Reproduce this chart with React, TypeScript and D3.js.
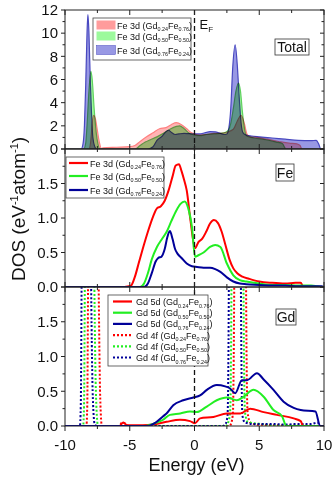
import React from 'react';
import * as d3 from 'd3';

type Pt = [number, number];

// Total panel: filled Fe 3d curves [energy, DOS]
const totalRed: Pt[] = [[-10, 0], [-8.15, 0], [-8.0, 0.8], [-7.9, 2.2], [-7.8, 2.9], [-7.65, 2.6], [-7.5, 1.6], [-7.35, 0.6], [-7.2, 0.05], [-7.05, 0.1], [-6.0, 0.15], [-5.0, 0.2], [-4.6, 0.3], [-4.2, 0.65], [-3.7, 1.05], [-3.2, 1.4], [-2.7, 1.75], [-2.2, 1.85], [-1.8, 2.1], [-1.4, 2.27], [-1.0, 2.1], [-0.6, 1.75], [-0.3, 1.45], [0, 1.3], [0.4, 1.2], [0.9, 1.25], [1.5, 1.35], [2.0, 1.35], [2.5, 1.45], [3.0, 1.7], [3.3, 2.4], [3.6, 2.9], [3.85, 2.2], [4.05, 1.3], [4.3, 1.05], [4.8, 1.0], [5.6, 0.85], [6.5, 0.65], [7.3, 0.5], [7.9, 0.45], [8.15, 0.3], [8.3, 0], [10, 0]];
const totalGreen: Pt[] = [[-10, 0], [-8.55, 0], [-8.4, 0.5], [-8.3, 2], [-8.15, 5], [-8.0, 6.7], [-7.9, 6], [-7.75, 3.5], [-7.6, 1.5], [-7.45, 0.4], [-7.3, 0], [-4.6, 0], [-4.2, 0.3], [-3.8, 0.6], [-3.4, 0.8], [-2.9, 1.05], [-2.4, 1.35], [-1.9, 1.7], [-1.4, 1.95], [-1.15, 2.0], [-0.8, 1.75], [-0.4, 1.35], [0, 1.2], [0.4, 1.15], [0.9, 1.25], [1.5, 1.3], [2.0, 1.35], [2.4, 1.45], [2.6, 1.6], [2.8, 2.2], [3.0, 3.5], [3.2, 5], [3.4, 5.7], [3.55, 5], [3.7, 3.2], [3.85, 1.8], [4.05, 1.1], [4.6, 0.95], [5.5, 0.8], [6.3, 0.6], [6.8, 0.45], [6.95, 0.15], [7.05, 0], [10, 0]];
const totalBlue: Pt[] = [[-10, 0], [-8.75, 0], [-8.6, 0.5], [-8.5, 2], [-8.4, 5.5], [-8.3, 10], [-8.23, 11.6], [-8.15, 10], [-8.05, 6], [-7.95, 3], [-7.85, 1], [-7.7, 0.2], [-7.55, 0], [-3.6, 0], [-3.2, 0.2], [-2.9, 0.75], [-2.5, 1.1], [-2.2, 1.5], [-2.0, 1.62], [-1.8, 1.45], [-1.5, 1.25], [-1.2, 1.3], [-0.8, 1.35], [-0.4, 1.32], [0, 1.3], [0.4, 1.3], [0.8, 1.4], [1.2, 1.5], [1.6, 1.48], [2.0, 1.35], [2.3, 1.25], [2.5, 1.3], [2.65, 1.8], [2.8, 3.5], [2.95, 7], [3.14, 9], [3.3, 7.3], [3.45, 4.5], [3.6, 2.2], [3.75, 1.4], [4.0, 1.2], [4.4, 1.12], [5, 1.05], [6, 0.95], [7, 0.85], [8, 0.75], [9, 0.72], [9.4, 0.75], [9.6, 0.4], [9.75, 0], [10, 0]];

// Fe panel: Fe 3d partial DOS
const feRed: Pt[] = [[-10, 0], [-5.4, 0], [-5.1, 0.01], [-4.9, 0.02], [-4.6, 0.15], [-4.3, 0.35], [-4.0, 0.55], [-3.6, 0.8], [-3.2, 1.02], [-2.9, 1.14], [-2.6, 1.17], [-2.3, 1.25], [-2.0, 1.4], [-1.7, 1.6], [-1.45, 1.76], [-1.2, 1.78], [-1.0, 1.68], [-0.8, 1.55], [-0.6, 1.4], [-0.3, 0.95], [0.04, 0.56], [0.3, 0.65], [0.6, 0.7], [0.9, 0.8], [1.2, 0.92], [1.5, 0.97], [1.8, 0.93], [2.1, 0.8], [2.4, 0.6], [2.7, 0.4], [3.0, 0.27], [3.3, 0.2], [3.7, 0.15], [4.2, 0.12], [5, 0.08], [6, 0.06], [7, 0.05], [7.8, 0.06], [8.2, 0.06], [8.4, 0.01], [10, 0]];
const feGreen: Pt[] = [[-10, 0], [-4.2, 0], [-3.9, 0.05], [-3.6, 0.2], [-3.3, 0.4], [-2.9, 0.58], [-2.5, 0.7], [-2.15, 0.8], [-1.8, 0.95], [-1.4, 1.11], [-1.1, 1.2], [-0.75, 1.24], [-0.5, 1.15], [-0.2, 0.87], [0.04, 0.44], [0.3, 0.46], [0.7, 0.5], [1.2, 0.58], [1.6, 0.61], [2.0, 0.58], [2.5, 0.34], [3.0, 0.17], [3.5, 0.1], [4.0, 0.08], [5, 0.05], [6, 0.03], [7, 0.03], [8, 0.02], [9, 0.02], [9.5, 0.01], [10, 0]];
const feBlue: Pt[] = [[-10, 0], [-3.9, 0], [-3.6, 0.05], [-3.3, 0.2], [-3.0, 0.37], [-2.8, 0.42], [-2.55, 0.44], [-2.3, 0.55], [-2.1, 0.72], [-1.9, 0.81], [-1.7, 0.7], [-1.5, 0.55], [-1.3, 0.48], [-1.0, 0.42], [-0.6, 0.34], [-0.2, 0.3], [0.2, 0.29], [0.7, 0.28], [1.2, 0.28], [1.6, 0.26], [2.0, 0.22], [2.5, 0.14], [3.0, 0.08], [3.5, 0.05], [4, 0.04], [5, 0.03], [6, 0.02], [7, 0.02], [8, 0.01], [9, 0.01], [9.8, 0.01], [10, 0]];

// Gd panel: Gd 5d (solid) and Gd 4f (dotted)
const gd5dRed: Pt[] = [[-10, 0], [-5.8, 0], [-5.5, 0.05], [-5.2, 0.01], [-4, 0.01], [-3.2, 0.02], [-2.16, 0.06], [-1.12, 0.09], [-0.35, 0.07], [0.04, 0.04], [0.43, 0.11], [1.46, 0.13], [2.5, 0.18], [3.53, 0.18], [4.3, 0.25], [5.34, 0.2], [6.37, 0.16], [7.66, 0.11], [8.2, 0.07], [8.4, 0], [10, 0]];
const gd5dGreen: Pt[] = [[-10, 0], [-3.8, 0], [-3.2, 0.03], [-2.42, 0.09], [-1.9, 0.16], [-1.1, 0.18], [-0.35, 0.21], [0.17, 0.2], [0.95, 0.28], [1.72, 0.37], [2.5, 0.41], [3.27, 0.37], [3.78, 0.42], [4.56, 0.52], [5.34, 0.42], [6.1, 0.23], [6.76, 0.14], [7.1, 0], [10, 0]];
const gd5dBlue: Pt[] = [[-10, 0], [-3.6, 0], [-3.0, 0.05], [-2.42, 0.14], [-2.16, 0.18], [-1.64, 0.3], [-0.87, 0.37], [-0.09, 0.41], [0.43, 0.44], [0.95, 0.52], [1.72, 0.59], [2.37, 0.57], [2.75, 0.54], [3.14, 0.47], [3.66, 0.66], [4.05, 0.66], [4.82, 0.76], [5.34, 0.67], [6.1, 0.52], [6.88, 0.35], [7.66, 0.26], [8.2, 0.23], [9.34, 0.21], [9.7, 0], [10, 0]];
const gd4fRed: Pt[] = [[-10, 0], [-8.35, 0], [-8.28, 0.3], [-8.22, 2], [-8.05, 6], [-7.8, 9], [-7.55, 5], [-7.4, 2], [-7.28, 0.4], [-7.15, 0], [-5.8, 0], [-5.6, 0.05], [-5.4, 0.04], [-5.2, 0.01], [-5, 0], [2.7, 0], [2.85, 0.05], [2.97, 0.2], [3.03, 1], [3.1, 3], [3.5, 8], [3.95, 3], [4.02, 1], [4.1, 0.2], [4.3, 0.05], [4.8, 0.02], [10, 0]];
const gd4fGreen: Pt[] = [[-10, 0], [-8.6, 0], [-8.53, 0.3], [-8.47, 2], [-8.35, 6], [-8.1, 10], [-7.85, 5], [-7.73, 2], [-7.6, 0.4], [-7.45, 0], [2.4, 0], [2.6, 0.05], [2.75, 0.2], [2.82, 1], [2.88, 3], [3.3, 8], [3.75, 3], [3.82, 1], [3.9, 0.2], [4.1, 0.06], [4.6, 0.04], [5.2, 0.03], [6, 0.01], [10, 0]];
const gd4fBlue: Pt[] = [[-10, 0], [-8.85, 0], [-8.78, 0.3], [-8.72, 2], [-8.6, 6], [-8.35, 10], [-8.1, 5], [-7.98, 2], [-7.85, 0.4], [-7.7, 0.02], [-7.5, 0], [2.2, 0], [2.4, 0.03], [2.55, 0.15], [2.62, 1.0], [2.68, 3], [3.1, 8], [3.55, 3], [3.62, 1.0], [3.7, 0.15], [3.9, 0.05], [4.5, 0.03], [5, 0.03], [6, 0.03], [7, 0.02], [8, 0.03], [9, 0.03], [9.5, 0.05], [9.7, 0], [10, 0]];

const compositions = [['0.24', '0.76'], ['0.50', '0.50'], ['0.76', '0.24']];
const xTicks = [-10, -5, 0, 5, 10];

const FONT = '"Liberation Sans", Arial, Helvetica, sans-serif';
const W = 334;
const H = 477;
const X0 = 65;
const X1 = 324;
const RED = '#ff0000';
const GREEN = '#22ee22';
const BLUE = '#000099';
const LEG_FS = 9;

const x = d3.scaleLinear().domain([-10, 10]).range([X0, X1]);

const panels = [
  { top: 10, bottom: 149, max: 12, major: 2, minor: 1, fmt: d3.format('d'), labelTop: true },
  { top: 149, bottom: 287, max: 2, major: 0.5, minor: 0.25, fmt: d3.format('.1f'), labelTop: false },
  { top: 287, bottom: 426, max: 2, major: 0.5, minor: 0.25, fmt: d3.format('.1f'), labelTop: false },
];
const yScales = panels.map(p => d3.scaleLinear().domain([0, p.max]).range([p.bottom, p.top]));

function Formula({ head, a, b, size }: { head: string; a: string; b: string; size: number }) {
  const s = size * 0.6;
  return (
    <>
      {head} (Gd
      <tspan dy={2.5} fontSize={s}>{a}</tspan>
      <tspan dy={-2.5}>Fe</tspan>
      <tspan dy={2.5} fontSize={s}>{b}</tspan>
      <tspan dy={-2.5}>)</tspan>
    </>
  );
}

function Axes({ i }: { i: number }) {
  const p = panels[i];
  const y = yScales[i];
  const majors = d3.range(0, p.max + 1e-6, p.major);
  const minors = d3.range(0, p.max + 1e-6, p.minor).filter(v => !majors.some(m => Math.abs(m - v) < 1e-6));
  const xMinor = [-7.5, -2.5, 2.5, 7.5];
  const last = i === panels.length - 1;
  return (
    <g stroke="#222" strokeWidth={1}>
      <rect x={X0} y={p.top} width={X1 - X0} height={p.bottom - p.top} fill="none" />
      {majors.map(v => (
        <g key={'M' + v}>
          <line x1={X0 - 4} x2={X0} y1={y(v)} y2={y(v)} />
          <line x1={X1 - 4} x2={X1} y1={y(v)} y2={y(v)} />
        </g>
      ))}
      {minors.map(v => (
        <g key={'m' + v}>
          <line x1={X0 - 2.5} x2={X0} y1={y(v)} y2={y(v)} />
          <line x1={X1 - 2.5} x2={X1} y1={y(v)} y2={y(v)} />
        </g>
      ))}
      {xTicks.map(v => (
        <g key={'x' + v}>
          <line x1={x(v)} x2={x(v)} y1={p.top} y2={p.top + 5} />
          {last
            ? <line x1={x(v)} x2={x(v)} y1={p.bottom} y2={p.bottom + 5} />
            : <line x1={x(v)} x2={x(v)} y1={p.bottom} y2={p.bottom - 5} />}
        </g>
      ))}
      {xMinor.map(v => (
        <g key={'xm' + v}>
          <line x1={x(v)} x2={x(v)} y1={p.top} y2={p.top + 3} />
          {last
            ? <line x1={x(v)} x2={x(v)} y1={p.bottom} y2={p.bottom + 3} />
            : <line x1={x(v)} x2={x(v)} y1={p.bottom} y2={p.bottom - 3} />}
        </g>
      ))}
      <g stroke="none" fill="#111" fontSize={15} textAnchor="end">
        {majors.filter(v => p.labelTop || v < p.max - 1e-6).map(v => (
          <text key={'l' + v} x={X0 - 7} y={y(v) + 5.3}>{p.fmt(v)}</text>
        ))}
      </g>
    </g>
  );
}

export default function App() {
  const lineFor = (i: number) =>
    d3.line<Pt>().x(d => x(d[0])).y(d => yScales[i](d[1])).curve(d3.curveMonotoneX);
  const area0 = d3.area<Pt>()
    .x(d => x(d[0]))
    .y0(yScales[0](0))
    .y1(d => yScales[0](d[1]))
    .curve(d3.curveMonotoneX);
  const line1 = lineFor(1);
  const line2 = lineFor(2);

  const totalSeries = [
    { data: totalRed, fill: '#ffb4b4', stroke: '#ff8080' },
    { data: totalGreen, fill: '#9cfa9c', stroke: '#60d060' },
    { data: totalBlue, fill: '#9898e4', stroke: '#4848c0' },
  ];
  const feSeries = [
    { data: feRed, color: RED },
    { data: feGreen, color: GREEN },
    { data: feBlue, color: BLUE },
  ];
  const gdSolid = [
    { data: gd5dRed, color: RED },
    { data: gd5dGreen, color: GREEN },
    { data: gd5dBlue, color: BLUE },
  ];
  const gdDotted = [
    { data: gd4fRed, color: RED },
    { data: gd4fGreen, color: GREEN },
    { data: gd4fBlue, color: BLUE },
  ];
  const colors = [RED, GREEN, BLUE];
  const ef = x(0);

  return (
    <svg width={W} height={H} viewBox={`0 0 ${W} ${H}`}
      style={{ position: 'absolute', left: 0, top: 0, display: 'block', background: '#fff' }}
      fontFamily={FONT}>
      <defs>
        {panels.map((p, i) => (
          <clipPath key={i} id={'clip' + i}>
            <rect x={X0} y={p.top} width={X1 - X0} height={p.bottom - p.top} />
          </clipPath>
        ))}
      </defs>
      <rect x={0} y={0} width={W} height={H} fill="#fff" />

      {/* Total panel */}
      <g clipPath="url(#clip0)" style={{ isolation: 'isolate' }}>
        {totalSeries.map((s, k) => (
          <path key={k} d={area0(s.data) || ''} fill={s.fill} stroke={s.stroke} strokeWidth={1.2}
            style={{ mixBlendMode: 'multiply' }} />
        ))}
      </g>

      {/* Fe panel */}
      <g clipPath="url(#clip1)" fill="none">
        {feSeries.map((s, k) => (
          <path key={k} d={line1(s.data) || ''} stroke={s.color} strokeWidth={2} />
        ))}
      </g>

      {/* Gd panel */}
      <g clipPath="url(#clip2)" fill="none">
        {gdDotted.map((s, k) => (
          <path key={'d' + k} d={line2(s.data) || ''} stroke={s.color} strokeWidth={2} strokeDasharray="2,2" />
        ))}
        {gdSolid.map((s, k) => (
          <path key={'s' + k} d={line2(s.data) || ''} stroke={s.color} strokeWidth={2} />
        ))}
      </g>

      {/* Fermi level */}
      <line x1={ef} x2={ef} y1={panels[0].top} y2={panels[2].bottom} stroke="#111" strokeWidth={1.3} strokeDasharray="5,3" />
      <text x={ef + 5} y={29} fontSize={13} fill="#111">E<tspan dy={3} fontSize={8}>F</tspan></text>

      {[0, 1, 2].map(i => <Axes key={i} i={i} />)}

      {/* Total legend */}
      <g>
        <rect x={93} y={18} width={98} height={42} fill="#fff" stroke="#444" strokeWidth={0.8} />
        {totalSeries.map((s, k) => {
          const cy = [25, 36, 50][k];
          return (
            <g key={k}>
              <rect x={96.5} y={cy - 4.5} width={19} height={9} fill={k === 0 ? '#ff9c9c' : s.fill} stroke={k === 2 ? s.stroke : 'none'} strokeWidth={0.5} />
              <text x={117} y={cy + 3.5} fontSize={LEG_FS} fill="#111">
                <Formula head="Fe 3d" a={compositions[k][0]} b={compositions[k][1]} size={LEG_FS} />
              </text>
            </g>
          );
        })}
      </g>

      {/* Fe legend */}
      <g>
        <rect x={66} y={157} width={98} height={41} fill="#fff" stroke="#444" strokeWidth={0.8} />
        {colors.map((c, k) => {
          const cy = [163, 176, 190][k];
          return (
            <g key={k}>
              <line x1={69} x2={88} y1={cy} y2={cy} stroke={c} strokeWidth={2.2} />
              <text x={90} y={cy + 3.5} fontSize={LEG_FS} fill="#111">
                <Formula head="Fe 3d" a={compositions[k][0]} b={compositions[k][1]} size={LEG_FS} />
              </text>
            </g>
          );
        })}
      </g>

      {/* Gd legend */}
      <g>
        <rect x={108} y={295} width={100} height={71} fill="#fff" stroke="#444" strokeWidth={0.8} />
        {[0, 1, 2, 3, 4, 5].map(k => {
          const cy = 301.5 + k * 11.2;
          const c = colors[k % 3];
          const head = k < 3 ? 'Gd 5d' : 'Gd 4f';
          return (
            <g key={k}>
              <line x1={113} x2={132} y1={cy} y2={cy} stroke={c} strokeWidth={2.2}
                strokeDasharray={k < 3 ? undefined : '2,2'} />
              <text x={136} y={cy + 3.5} fontSize={LEG_FS} fill="#111">
                <Formula head={head} a={compositions[k % 3][0]} b={compositions[k % 3][1]} size={LEG_FS} />
              </text>
            </g>
          );
        })}
      </g>

      {/* panel labels */}
      {[
        { t: 'Total', x: 275, y: 39, w: 34, h: 16 },
        { t: 'Fe', x: 276, y: 164, w: 18, h: 17 },
        { t: 'Gd', x: 276, y: 309, w: 20, h: 16 },
      ].map(b => (
        <g key={b.t}>
          <rect x={b.x} y={b.y} width={b.w} height={b.h} fill="#fff" stroke="#333" strokeWidth={0.8} />
          <text x={b.x + b.w / 2} y={b.y + b.h - 3.5} fontSize={14} textAnchor="middle" fill="#111">{b.t}</text>
        </g>
      ))}

      {/* x tick labels */}
      <g fontSize={15} fill="#111" textAnchor="middle">
        {xTicks.map(v => (
          <text key={v} x={x(v)} y={450}>{v}</text>
        ))}
      </g>

      {/* axis titles */}
      <text x={(X0 + X1) / 2 + 2} y={471} fontSize={18} textAnchor="middle" fill="#111">Energy (eV)</text>
      <text transform="translate(25,209) rotate(-90)" fontSize={19} textAnchor="middle" fill="#111">
        DOS (eV<tspan dy={-7} fontSize={11}>-1</tspan><tspan dy={7}>atom</tspan><tspan dy={-7} fontSize={11}>-1</tspan><tspan dy={7}>)</tspan>
      </text>
    </svg>
  );
}
